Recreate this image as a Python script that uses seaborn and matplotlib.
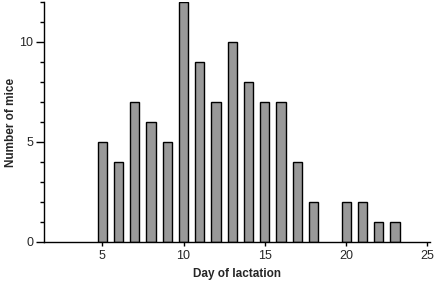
import numpy as np
import pandas as pd
import matplotlib
matplotlib.use('Agg')
import matplotlib.pyplot as plt
import seaborn as sns
from matplotlib.ticker import MultipleLocator

# =============================================================================
# data
# =============================================================================
days = [5, 6, 7, 8, 9, 10, 11, 12, 13, 14, 15, 16, 17, 18, 20, 21, 22, 23]
mice = [5, 4, 7, 6, 5, 12, 9, 7, 10, 8, 7, 7, 4, 2, 2, 2, 1, 1]
x_ticks = [5, 10, 15, 20, 25]
y_ticks = [0, 5, 10]

df = pd.DataFrame({'day': days, 'mice': mice})

# =============================================================================
# plot
# =============================================================================
sns.set_style('white')
plt.rcParams['font.family'] = ['Liberation Sans', 'DejaVu Sans']

fig = plt.figure(figsize=(4.4, 2.85), dpi=100)
ax = fig.add_axes([0.1007, 0.151, 0.876, 0.842])

sns.barplot(data=df, x='day', y='mice', native_scale=True, width=0.57,
            color='#999999', saturation=1, edgecolor='black', linewidth=1,
            ax=ax)

ax.set_xlim(1.44, 25.14)
ax.set_ylim(0, 12)
ax.set_xticks(x_ticks)
ax.set_yticks(y_ticks)
ax.yaxis.set_minor_locator(MultipleLocator(1))

for s in ['top', 'right']:
    ax.spines[s].set_visible(False)
for s in ['left', 'bottom']:
    ax.spines[s].set_color('black')
    ax.spines[s].set_linewidth(1)

ax.tick_params(axis='y', which='major', length=6, width=1, color='black',
               labelsize=9, pad=2, left=True)
ax.tick_params(axis='y', which='minor', length=3, width=1, color='black', left=True)
ax.tick_params(axis='x', which='major', length=3, width=1, color='black',
               labelsize=9, pad=3, bottom=True)

ax.set_xlabel('Day of lactation', fontsize=8.5, fontweight='bold', labelpad=4)
ax.set_ylabel('Number of mice', fontsize=8.5, fontweight='bold')
ax.yaxis.set_label_coords(-0.072, 0.5)

fig.savefig('out.png', dpi=100)
